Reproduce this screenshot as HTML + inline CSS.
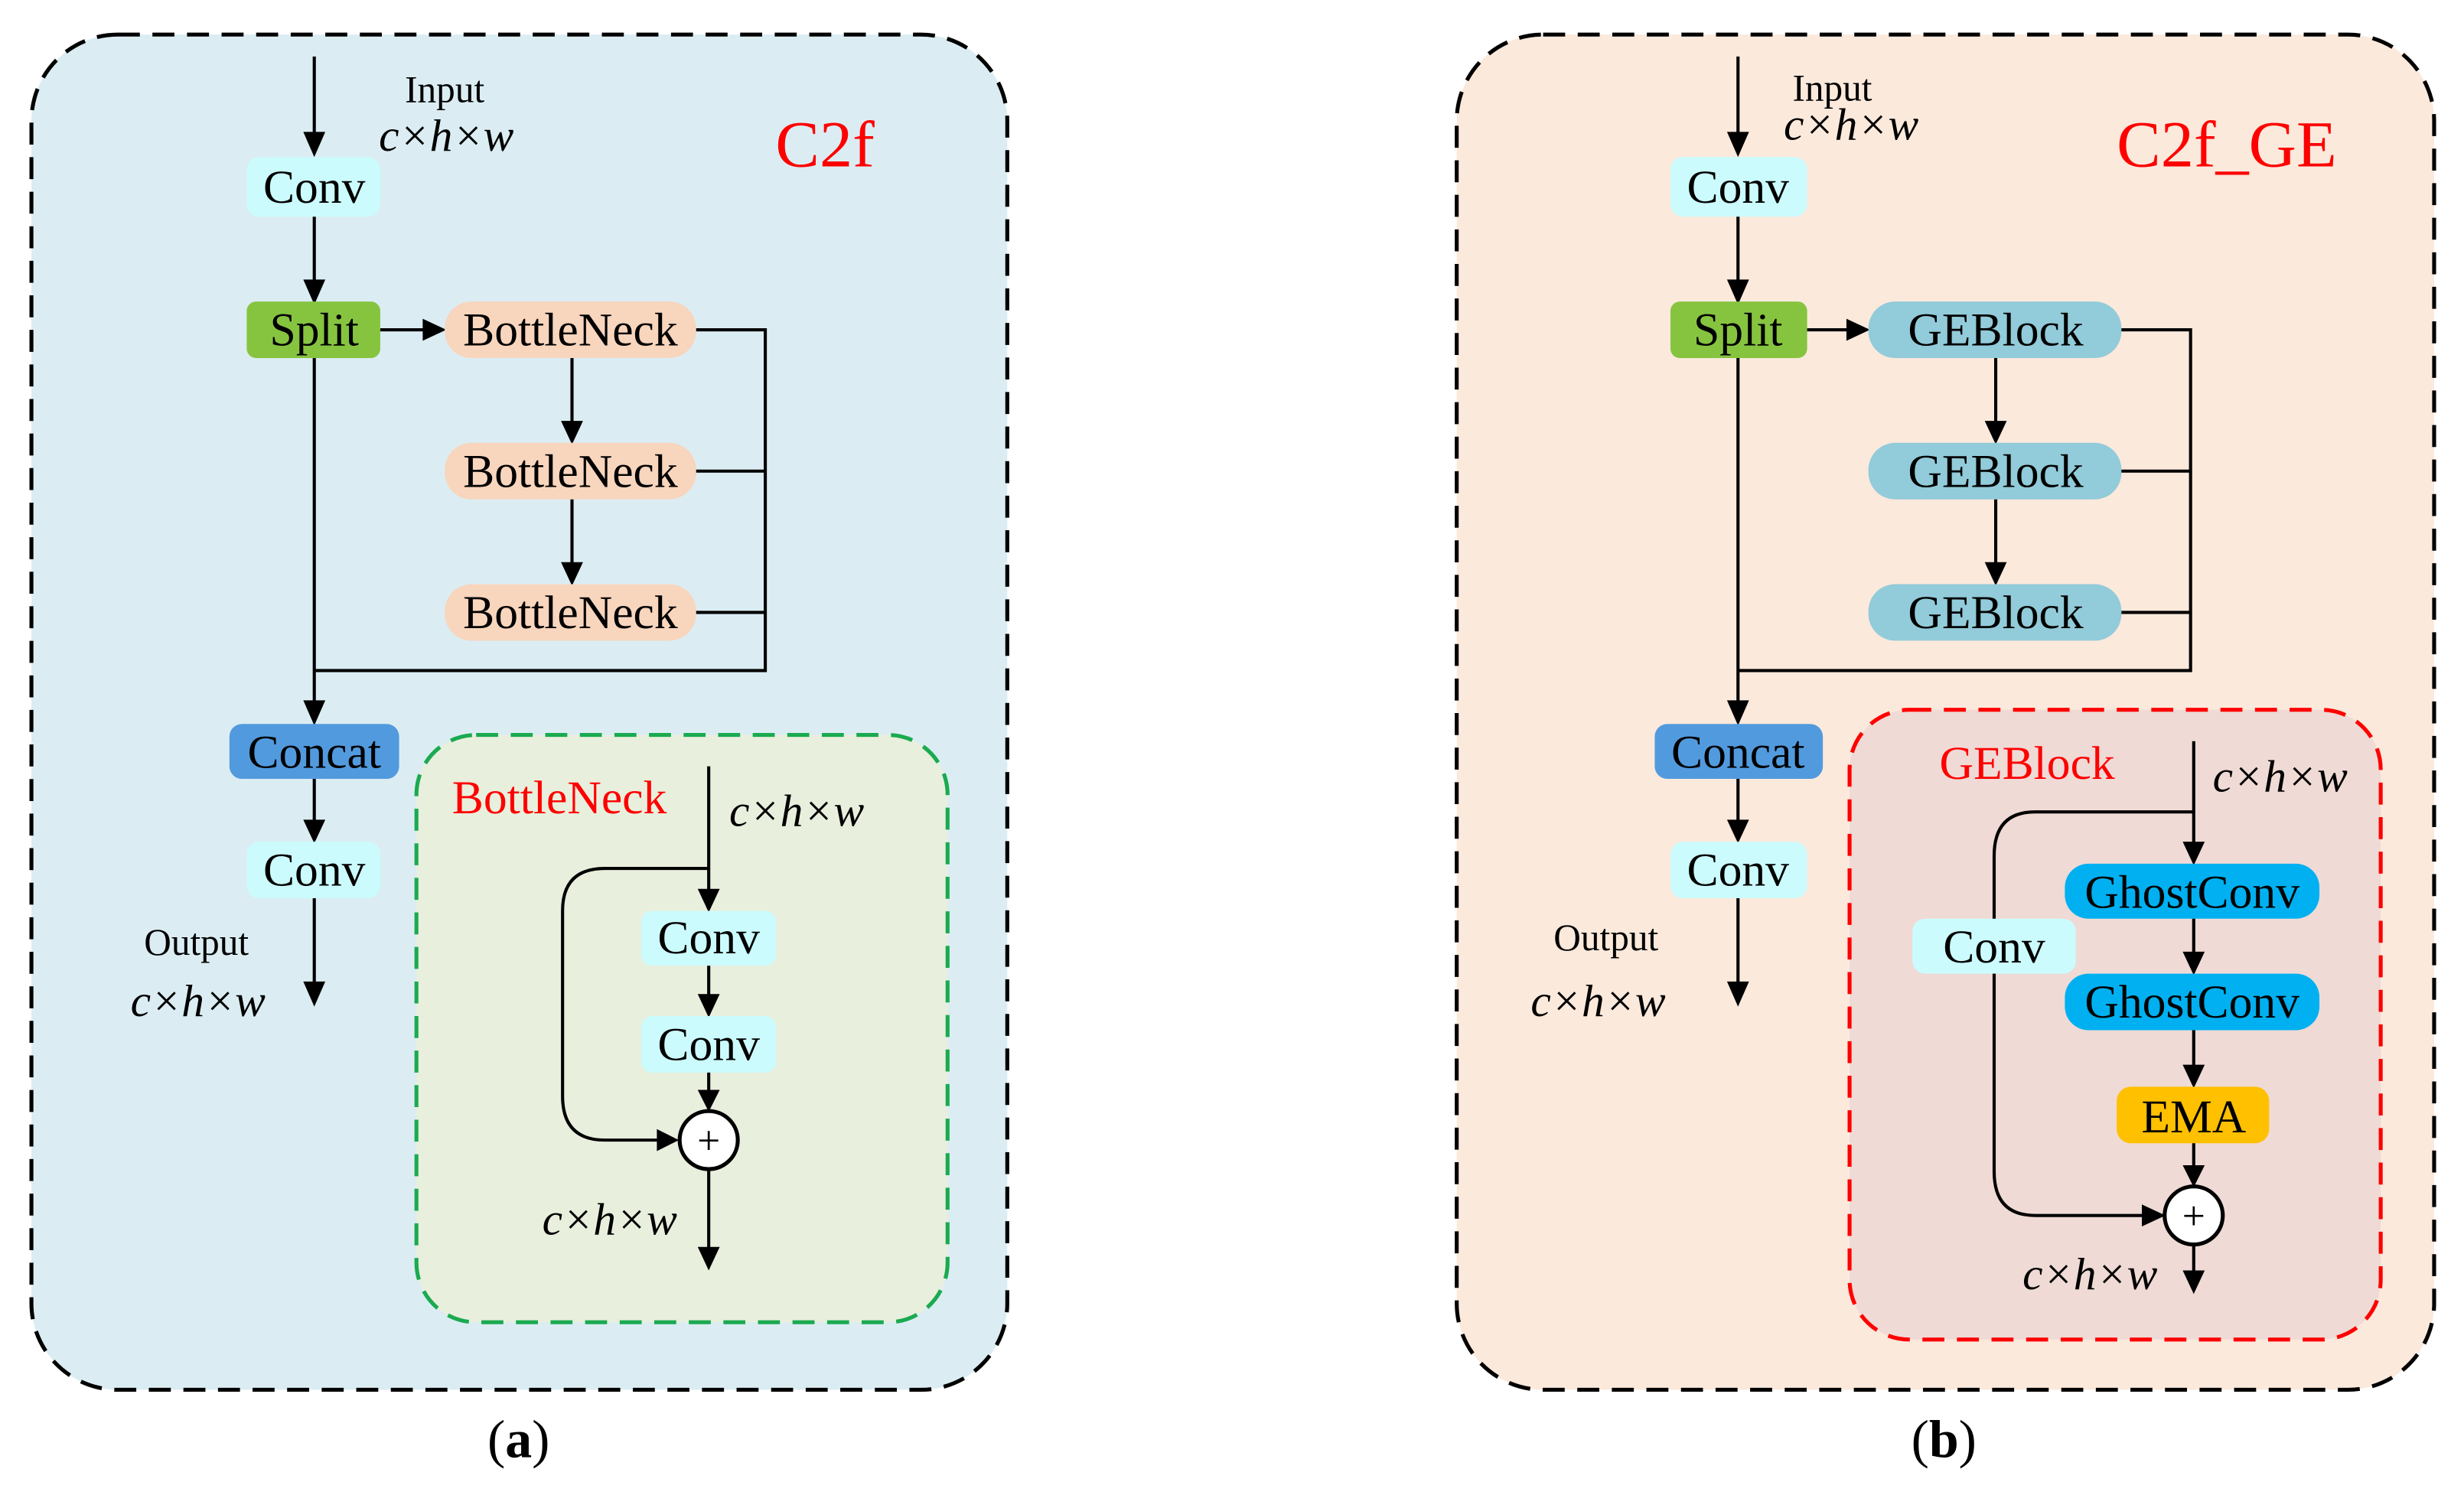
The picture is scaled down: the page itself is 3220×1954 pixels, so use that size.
<!DOCTYPE html>
<html><head><meta charset="utf-8"><style>html,body{margin:0;padding:0;background:#fff}svg{display:block}</style></head>
<body>
<svg width="3220" height="1954" viewBox="0 0 1568 952" preserveAspectRatio="none" xmlns="http://www.w3.org/2000/svg" font-family="Liberation Serif, serif">
<style>
.l{stroke:#000;stroke-width:2;fill:none}
.t{font-size:30px;text-anchor:middle;fill:#000}
.i{font-size:29px;font-style:italic;text-anchor:middle;fill:#000}
.r{fill:#f00;text-anchor:middle}
</style>
<rect x="20" y="22" width="621" height="863" rx="55" fill="#dbedf3" stroke="#000" stroke-width="2.5" stroke-dasharray="14 8"/>
<rect x="927" y="22" width="622" height="863" rx="55" fill="#fbe9dc" stroke="#000" stroke-width="2.5" stroke-dasharray="14 8"/>

<g>
<line class="l" x1="200" y1="36" x2="200" y2="90"/><polygon points="193,84 207,84 200,100"/>
<text x="283" y="65" font-size="24" text-anchor="middle">Input</text>
<text x="284" y="96" class="i">c×h×w</text>
<text x="525" y="106" class="r" font-size="42">C2f</text>
<rect x="157" y="100" width="85" height="38" rx="8" fill="#ccfbfd"/>
<text x="200" y="129" class="t">Conv</text>
<line class="l" x1="200" y1="138" x2="200" y2="184"/><polygon points="193,178 207,178 200,194"/>
<rect x="157" y="192" width="85" height="36" rx="6" fill="#86c440"/>
<text x="200" y="220" class="t">Split</text>
<line class="l" x1="242" y1="210" x2="275" y2="210"/><polygon points="269,203 269,217 284,210"/>
<rect x="283" y="192" width="160" height="36" rx="17" fill="#f8d5bd"/>
<text x="363" y="220" class="t">BottleNeck</text>
<line class="l" x1="364" y1="228" x2="364" y2="274"/><polygon points="357,268 371,268 364,283"/>
<rect x="283" y="282" width="160" height="36" rx="17" fill="#f8d5bd"/>
<text x="363" y="310" class="t">BottleNeck</text>
<line class="l" x1="364" y1="318" x2="364" y2="364"/><polygon points="357,358 371,358 364,373"/>
<rect x="283" y="372" width="160" height="36" rx="17" fill="#f8d5bd"/>
<text x="363" y="400" class="t">BottleNeck</text>
<polyline class="l" points="443,210 487,210 487,427 200,427"/>
<line class="l" x1="443" y1="300" x2="487" y2="300"/>
<line class="l" x1="443" y1="390" x2="487" y2="390"/>
<line class="l" x1="200" y1="228" x2="200" y2="452"/><polygon points="193,446 207,446 200,462"/>
<rect x="146" y="461" width="108" height="35" rx="8" fill="#529ade"/>
<text x="200" y="489" class="t">Concat</text>
<line class="l" x1="200" y1="496" x2="200" y2="528"/><polygon points="193,522 207,522 200,537"/>
<rect x="157" y="536" width="85" height="36" rx="8" fill="#ccfbfd"/>
<text x="200" y="564" class="t">Conv</text>
<line class="l" x1="200" y1="572" x2="200" y2="632"/><polygon points="193,625 207,625 200,641"/>
<text x="125" y="608" font-size="24" text-anchor="middle">Output</text>
<text x="126" y="647" class="i">c×h×w</text>

<rect x="265" y="468" width="338" height="374" rx="38" fill="#e9efdd" stroke="#1aaa50" stroke-width="2.5" stroke-dasharray="14 8"/>
<text x="356" y="518" class="r" font-size="30">BottleNeck</text>
<text x="507" y="526" class="i">c×h×w</text>
<line class="l" x1="451" y1="488" x2="451" y2="572"/><polygon points="444,566 458,566 451,581"/>
<path class="l" d="M451,553 H385 Q358,553 358,580 V698 Q358,726 385,726 H424"/><polygon points="418,719 418,733 432,726"/>
<rect x="408" y="580" width="86" height="35" rx="7" fill="#ccfbfd"/>
<text x="451" y="607" class="t">Conv</text>
<line class="l" x1="451" y1="615" x2="451" y2="639"/><polygon points="444,633 458,633 451,648"/>
<rect x="408" y="647" width="86" height="36" rx="7" fill="#ccfbfd"/>
<text x="451" y="675" class="t">Conv</text>
<line class="l" x1="451" y1="683" x2="451" y2="700"/><polygon points="444,694 458,694 451,708"/>
<circle cx="451" cy="726" r="18.5" fill="#fff" stroke="#000" stroke-width="2.5"/>
<text x="451" y="735" font-size="26" text-anchor="middle">+</text>
<line class="l" x1="451" y1="745" x2="451" y2="800"/><polygon points="444,794 458,794 451,809"/>
<text x="388" y="786" class="i">c×h×w</text>
</g>

<g>
<line class="l" x1="1106" y1="36" x2="1106" y2="90"/><polygon points="1099,84 1113,84 1106,100"/>
<text x="1166" y="64" font-size="24" text-anchor="middle">Input</text>
<text x="1178" y="89" class="i">c×h×w</text>
<text x="1417" y="106" class="r" font-size="42">C2f_GE</text>
<rect x="1063" y="100" width="87" height="38" rx="8" fill="#ccfbfd"/>
<text x="1106" y="129" class="t">Conv</text>
<line class="l" x1="1106" y1="138" x2="1106" y2="184"/><polygon points="1099,178 1113,178 1106,194"/>
<rect x="1063" y="192" width="87" height="36" rx="6" fill="#86c440"/>
<text x="1106" y="220" class="t">Split</text>
<line class="l" x1="1150" y1="210" x2="1181" y2="210"/><polygon points="1175,203 1175,217 1190,210"/>
<rect x="1189" y="192" width="161" height="36" rx="17" fill="#92cbd9"/>
<text x="1270" y="220" class="t">GEBlock</text>
<line class="l" x1="1270" y1="228" x2="1270" y2="274"/><polygon points="1263,268 1277,268 1270,283"/>
<rect x="1189" y="282" width="161" height="36" rx="17" fill="#92cbd9"/>
<text x="1270" y="310" class="t">GEBlock</text>
<line class="l" x1="1270" y1="318" x2="1270" y2="364"/><polygon points="1263,358 1277,358 1270,373"/>
<rect x="1189" y="372" width="161" height="36" rx="17" fill="#92cbd9"/>
<text x="1270" y="400" class="t">GEBlock</text>
<polyline class="l" points="1350,210 1394,210 1394,427 1106,427"/>
<line class="l" x1="1350" y1="300" x2="1394" y2="300"/>
<line class="l" x1="1350" y1="390" x2="1394" y2="390"/>
<line class="l" x1="1106" y1="228" x2="1106" y2="452"/><polygon points="1099,446 1113,446 1106,462"/>
<rect x="1053" y="461" width="107" height="35" rx="8" fill="#529ade"/>
<text x="1106" y="489" class="t">Concat</text>
<line class="l" x1="1106" y1="496" x2="1106" y2="528"/><polygon points="1099,522 1113,522 1106,537"/>
<rect x="1063" y="536" width="87" height="36" rx="8" fill="#ccfbfd"/>
<text x="1106" y="564" class="t">Conv</text>
<line class="l" x1="1106" y1="572" x2="1106" y2="632"/><polygon points="1099,625 1113,625 1106,641"/>
<text x="1022" y="605" font-size="24" text-anchor="middle">Output</text>
<text x="1017" y="647" class="i">c×h×w</text>

<rect x="1177" y="452" width="338" height="401" rx="38" fill="#efdad6" stroke="#f00" stroke-width="2.5" stroke-dasharray="14 8"/>
<text x="1290" y="496" class="r" font-size="30">GEBlock</text>
<text x="1451" y="504" class="i">c×h×w</text>
<line class="l" x1="1396" y1="472" x2="1396" y2="542"/><polygon points="1389,536 1403,536 1396,551"/>
<path class="l" d="M1396,517 H1295 Q1269,517 1269,545 V746 Q1269,774 1295,774 H1369"/><polygon points="1363,767 1363,781 1378,774"/>
<rect x="1217" y="585" width="104" height="35" rx="8" fill="#ccfbfd"/>
<text x="1269" y="613" class="t">Conv</text>
<rect x="1314" y="550" width="162" height="35" rx="15" fill="#00b0f0"/>
<text x="1395" y="578" class="t">GhostConv</text>
<line class="l" x1="1396" y1="585" x2="1396" y2="612"/><polygon points="1389,606 1403,606 1396,621"/>
<rect x="1314" y="620" width="162" height="36" rx="15" fill="#00b0f0"/>
<text x="1395" y="648" class="t">GhostConv</text>
<line class="l" x1="1396" y1="656" x2="1396" y2="684"/><polygon points="1389,678 1403,678 1396,693"/>
<rect x="1347" y="692" width="97" height="36" rx="9" fill="#ffc000"/>
<text x="1396" y="721" class="t">EMA</text>
<line class="l" x1="1396" y1="728" x2="1396" y2="748"/><polygon points="1389,742 1403,742 1396,756"/>
<circle cx="1396" cy="774" r="18.5" fill="#fff" stroke="#000" stroke-width="2.5"/>
<text x="1396" y="783" font-size="26" text-anchor="middle">+</text>
<line class="l" x1="1396" y1="793" x2="1396" y2="815"/><polygon points="1389,809 1403,809 1396,824"/>
<text x="1330" y="821" class="i">c×h×w</text>
</g>

<text x="330" y="928" font-size="34" text-anchor="middle">(<tspan font-weight="bold">a</tspan>)</text>
<text x="1237" y="928" font-size="34" text-anchor="middle">(<tspan font-weight="bold">b</tspan>)</text>
</svg>
</body></html>
